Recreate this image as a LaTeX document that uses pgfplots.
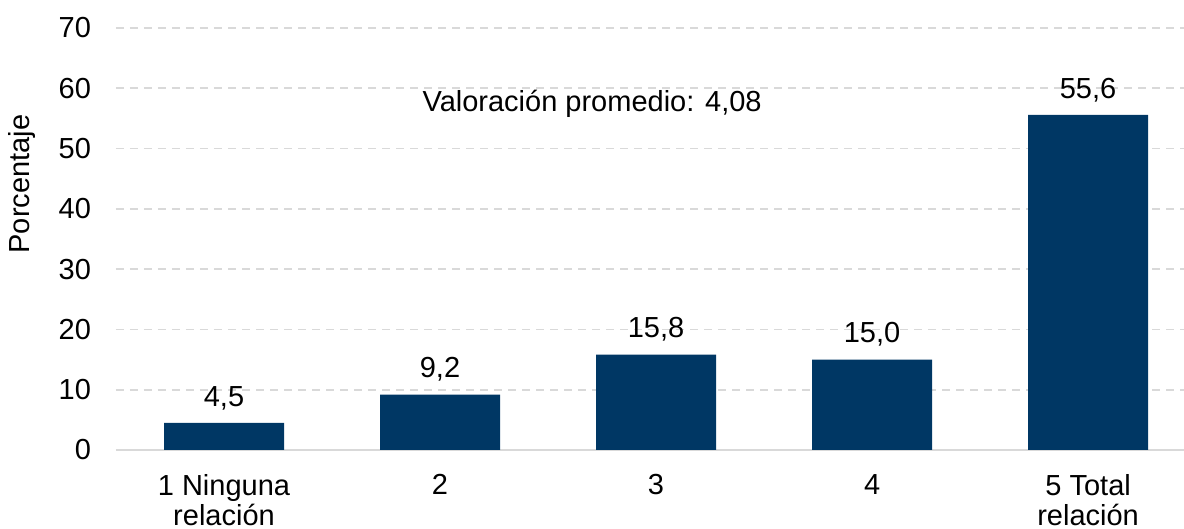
\documentclass[border=0pt]{standalone}
\usepackage{fontspec}
\setmainfont{Liberation Sans}
\usepackage{pgfplots}
\pgfplotsset{compat=1.18}
\definecolor{barblue}{HTML}{003764}
\definecolor{gridgray}{HTML}{D9D9D9}
\begin{document}
\begin{tikzpicture}
\path[use as bounding box] (-58pt,-39.5pt) rectangle (534pt,225pt);
\begin{axis}[
  at={(0,0)}, anchor=south west,
  scale only axis,
  width=534pt, height=211pt,
  xmin=-0.5, xmax=4.444,
  ymin=0, ymax=70,
  ytick={0,10,...,70},
  xtick={0,1,2,3,4},
  xticklabels={1 Ninguna\\relación, 2, 3, 4, 5 Total\\relación},
  xticklabel style={align=center, font=\fontsize{14.5}{15}\selectfont, yshift=-8.5pt},
  yticklabel style={font=\fontsize{14.5}{15}\selectfont, xshift=-9pt},
  /pgf/number format/assume math mode=true,
  major tick length=0pt,
  axis x line*=bottom,
  axis y line*=left,
  y axis line style={draw=none},
  x axis line style={gridgray, line width=1pt, -},
  ymajorgrids,
  grid style={gridgray, dash pattern=on 4pt off 3pt, line width=0.8pt},
  ylabel={Porcentaje},
  ylabel style={font=\fontsize{14.5}{15}\selectfont, at={(axis description cs:0,0.63)}, anchor=center, yshift=47pt},
  clip=false,
]
\addplot[ybar, bar width=60pt, fill=barblue, draw=none,
  nodes near coords, point meta=explicit symbolic,
  every node near coord/.append style={font=\fontsize{14.5}{15}\selectfont, anchor=south, yshift=3pt}]
  table[meta=lab] {
x y lab
0 4.5 {4,5}
1 9.2 {9,2}
2 15.8 {15,8}
3 15.0 {15,0}
4 55.6 {55,6}
};
\node[font=\fontsize{14.5}{15}\selectfont] at (axis cs:1.704,57.5) {Valoración promedio: 4,08};
\end{axis}
\end{tikzpicture}
\end{document}
